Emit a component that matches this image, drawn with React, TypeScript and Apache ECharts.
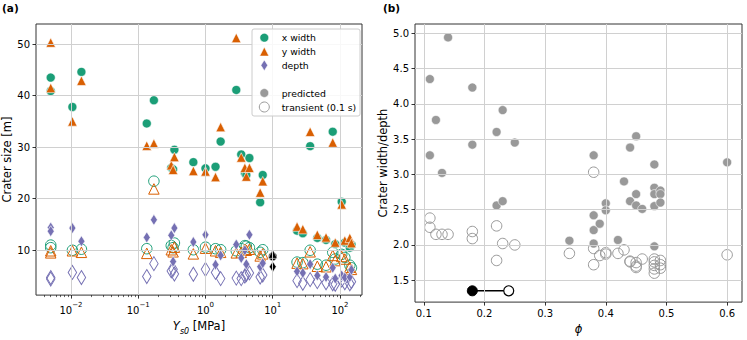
import React, { useEffect, useRef } from 'react';
import * as echarts from 'echarts';

const GREEN = '#1b9e77';
const ORANGE = '#d95f02';
const PURPLE = '#7570b3';
const GRAY = '#999999';
const FONT = 'DejaVu Sans';

// ---------- Panel (a): crater size vs Ys0 ----------
const ys0 = [0.005, 0.005, 0.0105, 0.0143, 0.134, 0.171, 0.31, 0.33, 0.345, 0.66, 1.0, 1.41, 1.68, 2.87, 3.4, 3.85, 4.05, 4.5, 6.5, 7.1,
  23, 28, 36, 46, 62, 78, 85, 106, 118, 140, 148];
const xWidthPred = [43.5, 40.9, 37.8, 44.6, 34.6, 39.1, 26.0, 25.7, 29.5, 27.1, 25.9, 26.2, 31.1, 41.1, 28.6, 25.0, 24.6, 27.9, 19.3, 24.6,
  13.8, 13.3, 30.2, 12.4, 12.0, 33.0, 11.2, 19.4, 11.5, 10.5, 11.1];
const yWidthPred = [50.3, 41.5, 35.0, 42.9, 30.3, 30.7, 26.5, 25.6, 28.1, 25.4, 25.3, 24.2, 33.9, 51.2, 28.0, 26.0, 24.3, 26.0, 21.2, 23.4,
  14.6, 14.1, 33.0, 13.0, 12.5, 30.9, 11.5, 18.9, 11.9, 12.4, 11.4];
const depthPred = [14.4, 13.7, 14.3, 11.75, 12.5, 15.9, 12.9, 7.8, 14.3, 11.6, 13.0, 7.2, 9.0, 11.1, 8.5, 10.0, 7.3, 13.0, 6.8, 7.5,
  5.9, 5.6, 7.3, 5.1, 4.8, 6.6, 4.5, 5.1, 4.7, 4.8, 6.2];
const xWidthTrans = [11.0, 10.5, 10.0, 10.2, 10.3, 23.4, 10.9, 10.5, 11.4, 10.1, 10.6, 10.3, 10.1, 9.9, 10.3, 10.9, 10.8, 10.5, 9.6, 10.1,
  7.7, 7.6, 10.0, 7.3, 7.1, 9.6, 8.3, 9.2, 8.6, 7.1, 6.6];
const yWidthTrans = [9.9, 9.5, 9.9, 9.6, 9.4, 21.9, 10.1, 9.7, 10.6, 9.3, 10.4, 9.9, 9.6, 9.5, 9.6, 10.2, 10.0, 10.2, 8.9, 9.3,
  7.5, 7.4, 9.7, 6.9, 6.8, 9.0, 8.0, 8.8, 8.3, 6.7, 6.3];
const depthTrans = [4.7, 4.4, 5.7, 4.7, 4.9, 7.4, 6.0, 6.3, 5.4, 5.35, 6.3, 5.7, 4.5, 4.6, 4.5, 5.0, 5.3, 5.6, 4.8, 5.2,
  4.1, 3.6, 4.3, 3.9, 3.7, 3.5, 3.4, 4.2, 3.7, 3.5, 3.9];
// observed crater (black)
const obsYs0 = [10];
const obsXWidth = [8.8];
const obsYWidth = [9.3];
const obsDepth = [6.8];

const X_TICKS_A = [0.01, 0.1, 1, 10, 100];
const Y_TICKS_A = [10, 20, 30, 40, 50];

// ---------- Panel (b): width/depth vs porosity ----------
const phiPred = [0.11, 0.11, 0.12, 0.13, 0.14, 0.18, 0.18, 0.22, 0.22, 0.23, 0.23, 0.25, 0.34, 0.38, 0.38, 0.38, 0.38, 0.39, 0.40, 0.40,
  0.42, 0.43, 0.44, 0.44, 0.45, 0.45, 0.45, 0.46, 0.48, 0.48, 0.48, 0.48, 0.48, 0.49, 0.49, 0.49, 0.60];
const ratioPred = [4.35, 3.27, 3.77, 3.02, 4.94, 4.23, 3.42, 3.60, 2.56, 3.91, 2.62, 3.45, 2.06, 3.27, 2.42, 2.21, 2.02, 2.30, 2.59, 2.49,
  2.07, 2.90, 3.38, 2.62, 3.54, 2.72, 2.56, 2.51, 3.14, 2.81, 2.72, 2.55, 1.98, 2.77, 2.72, 2.60, 3.17];
const phiTrans = [0.11, 0.11, 0.12, 0.13, 0.14, 0.18, 0.18, 0.22, 0.22, 0.23, 0.25, 0.34, 0.38, 0.38, 0.38, 0.39, 0.40, 0.40, 0.42, 0.43,
  0.44, 0.44, 0.45, 0.45, 0.45, 0.46, 0.48, 0.48, 0.48, 0.48, 0.48, 0.49, 0.49, 0.49, 0.60];
const ratioTrans = [2.38, 2.25, 2.15, 2.15, 2.15, 2.19, 2.09, 2.27, 1.78, 2.02, 2.00, 1.88, 3.03, 1.95, 1.72, 1.85, 1.89, 1.87, 1.88, 1.93,
  1.77, 1.76, 1.75, 1.70, 1.68, 1.80, 1.80, 1.76, 1.71, 1.66, 1.60, 1.78, 1.72, 1.67, 1.86];
const obsPhi = [0.18, 0.24];
const obsRatio = [1.35, 1.35];

const X_TICKS_B = [0.1, 0.2, 0.3, 0.4, 0.5, 0.6];
const Y_TICKS_B = [1.5, 2.0, 2.5, 3.0, 3.5, 4.0, 4.5, 5.0];

// axis extents
const XA_MIN = 0.00302, XA_MAX = 212.4, YA_MIN = 1.3, YA_MAX = 53.9;
const XB_MIN = 0.0855, XB_MAX = 0.6245, YB_MIN = 1.19, YB_MAX = 5.13;

const minorA: number[] = [];
for (let e = -3; e <= 2; e++) {
  for (let m = 2; m <= 9; m++) {
    const v = m * Math.pow(10, e);
    if (v >= XA_MIN && v <= XA_MAX) minorA.push(v);
  }
}

const pairs = (xs: number[], ys: number[]) => xs.map((x, i) => [x, ys[i]]);

const TRANSP = 'rgba(255,255,255,0)';

function scatter(axis: number, data: number[][], symbol: string, size: any, fill: string, stroke: string, bw: number, z: number) {
  return {
    type: 'scatter',
    xAxisIndex: axis,
    yAxisIndex: axis,
    data,
    symbol,
    symbolSize: size,
    itemStyle: { color: fill, borderColor: stroke, borderWidth: bw, opacity: 1 },
    z,
    silent: true,
  };
}

const TRI = 'triangle';
const DIA = 'diamond';
const CIR = 'circle';

export default function App() {
  const ref = useRef<HTMLDivElement>(null);
  useEffect(() => {
    document.body.style.margin = '0';
    const chart = echarts.init(ref.current!, undefined, { renderer: 'svg' });
    const tickLabel = { fontFamily: FONT, fontSize: 10, color: '#000' };
    const gridLine = { show: true, lineStyle: { color: '#d0d0d0', width: 1 } };
    const tick = { show: true, length: 3.5, lineStyle: { color: '#000', width: 0.8 } };

    const legendX = 264.3;
    const legendRows = [37.7, 51.7, 65.3, 93, 107];
    const legendTextX = 281.7;
    const lt = (y: number, t: string) => ({
      type: 'text', x: legendTextX, y, style: { text: t, fontFamily: FONT, fontSize: 9.3, fill: '#000', verticalAlign: 'middle' }, z: 101,
    });

    const option: any = {
      animation: false,
      grid: [
        { left: 36, right: 385, top: 24, bottom: 37, show: true, borderColor: '#333', borderWidth: 1, backgroundColor: 'transparent', z: 10 },
        { left: 415, right: 5, top: 24, bottom: 37, show: true, borderColor: '#333', borderWidth: 1, backgroundColor: 'transparent', z: 10 },
      ],
      xAxis: [
        {
          gridIndex: 0, type: 'log', logBase: 10, min: XA_MIN, max: XA_MAX,
          axisLine: { show: false },
          axisTick: { ...tick, customValues: X_TICKS_A },
          splitLine: gridLine,
          axisLabel: {
            customValues: X_TICKS_A,
            margin: 6,
            formatter: (v: number) => {
              const e = Math.round(Math.log10(v));
              return '{b|10}{e|' + (e < 0 ? '\u2212' : '') + Math.abs(e) + '}';
            },
            rich: {
              b: { fontFamily: FONT, fontSize: 10, color: '#000', lineHeight: 14, verticalAlign: 'bottom' },
              e: { fontFamily: FONT, fontSize: 7, color: '#000', lineHeight: 14, verticalAlign: 'top' },
            },
          },
          name: '{i|Y}{s|s0}{n| [MPa]}',
          nameLocation: 'middle',
          nameGap: 17,
          nameTextStyle: {
            fontFamily: FONT, fontSize: 11.5, color: '#000',
            rich: {
              i: { fontFamily: FONT, fontSize: 11.5, fontStyle: 'italic', color: '#000', verticalAlign: 'top', lineHeight: 15 },
              s: { fontFamily: FONT, fontSize: 8, fontStyle: 'italic', color: '#000', verticalAlign: 'bottom', lineHeight: 15 },
              n: { fontFamily: FONT, fontSize: 11.5, color: '#000', verticalAlign: 'top', lineHeight: 15 },
            },
          },
          z: 20,
        },
        {
          gridIndex: 1, type: 'value', min: XB_MIN, max: XB_MAX,
          axisLine: { show: false },
          axisTick: { ...tick, customValues: X_TICKS_B },
          splitLine: gridLine,
          axisLabel: { ...tickLabel, customValues: X_TICKS_B, margin: 6, formatter: (v: number) => v.toFixed(1) },
          name: '\u03d5',
          nameLocation: 'middle',
          nameGap: 18,
          nameTextStyle: { fontFamily: FONT, fontSize: 11.5, fontStyle: 'italic', color: '#000' },
          z: 20,
        },
        {
          gridIndex: 0, type: 'log', logBase: 10, min: XA_MIN, max: XA_MAX, position: 'bottom',
          axisLine: { show: false },
          axisTick: { show: true, length: 2, lineStyle: { color: '#000', width: 0.6 }, customValues: minorA },
          splitLine: { show: false },
          axisLabel: { show: false },
          z: 20,
        },
      ],
      yAxis: [
        {
          gridIndex: 0, type: 'value', min: YA_MIN, max: YA_MAX,
          axisLine: { show: false },
          axisTick: { ...tick, customValues: Y_TICKS_A },
          splitLine: gridLine,
          axisLabel: { ...tickLabel, customValues: Y_TICKS_A, margin: 6 },
          name: 'Crater size [m]',
          nameLocation: 'middle',
          nameGap: 18,
          nameTextStyle: { fontFamily: FONT, fontSize: 11.5, color: '#000' },
          z: 20,
        },
        {
          gridIndex: 1, type: 'value', min: YB_MIN, max: YB_MAX,
          axisLine: { show: false },
          axisTick: { ...tick, customValues: Y_TICKS_B },
          splitLine: gridLine,
          axisLabel: { ...tickLabel, customValues: Y_TICKS_B, margin: 6, formatter: (v: number) => v.toFixed(1) },
          name: 'Crater width/depth',
          nameLocation: 'middle',
          nameGap: 25,
          nameTextStyle: { fontFamily: FONT, fontSize: 11.5, color: '#000' },
          z: 20,
        },
      ],
      series: [
        // panel a, transient (open)
        scatter(0, pairs(ys0, xWidthTrans), CIR, 10.5, TRANSP, GREEN, 1, 2),
        scatter(0, pairs(ys0, yWidthTrans), TRI, 10.5, TRANSP, ORANGE, 1, 2),
        scatter(0, pairs(ys0, depthTrans), DIA, [8.5, 14], TRANSP, PURPLE, 1, 2),
        // panel a, predicted (filled)
        scatter(0, pairs(ys0, xWidthPred), CIR, 9, GREEN, '#fff', 0.6, 3),
        scatter(0, pairs(ys0, yWidthPred), TRI, 9.5, ORANGE, '#fff', 0.6, 3),
        scatter(0, pairs(ys0, depthPred), DIA, [7, 11], PURPLE, '#fff', 0.6, 3),
        // panel a, observed
        scatter(0, pairs(obsYs0, obsXWidth), CIR, 8.5, '#000', '#fff', 0.6, 4),
        scatter(0, pairs(obsYs0, obsYWidth), TRI, 9, '#000', '#fff', 0.6, 4),
        scatter(0, pairs(obsYs0, obsDepth), DIA, [7, 11], '#000', '#fff', 0.6, 4),
        // panel b
        scatter(1, pairs(phiTrans, ratioTrans), CIR, 10.5, TRANSP, GRAY, 1, 2),
        scatter(1, pairs(phiPred, ratioPred), CIR, 9, GRAY, '#fff', 0.6, 3),
        {
          type: 'line', xAxisIndex: 1, yAxisIndex: 1, data: pairs(obsPhi, obsRatio), symbol: 'none',
          lineStyle: { color: '#000', width: 1.5 }, z: 4, silent: true,
        },
        scatter(1, [pairs(obsPhi, obsRatio)[0]], CIR, 10, '#000', '#000', 1, 5),
        scatter(1, [pairs(obsPhi, obsRatio)[1]], CIR, 10, '#fff', '#000', 1.2, 5),
      ],
      graphic: [
        { type: 'text', left: 2, top: 2, style: { text: '(a)', fontFamily: FONT, fontSize: 10.5, fontWeight: 'bold', fill: '#000' } },
        { type: 'text', left: 383, top: 2, style: { text: '(b)', fontFamily: FONT, fontSize: 10.5, fontWeight: 'bold', fill: '#000' } },
        {
          type: 'rect', shape: { x: 252, y: 29, width: 108, height: 87, r: 2 },
          style: { fill: 'rgba(255,255,255,0.85)', stroke: '#cccccc', lineWidth: 1 }, z: 100,
        },
        { type: 'circle', shape: { cx: legendX, cy: legendRows[0], r: 4.4 }, style: { fill: GREEN, stroke: '#fff', lineWidth: 0.6 }, z: 101 },
        {
          type: 'polygon', shape: { points: [[legendX, legendRows[1] - 4.6], [legendX - 4.6, legendRows[1] + 4.4], [legendX + 4.6, legendRows[1] + 4.4]] },
          style: { fill: ORANGE, stroke: '#fff', lineWidth: 0.6 }, z: 101,
        },
        {
          type: 'polygon', shape: { points: [[legendX, legendRows[2] - 5.4], [legendX - 3.4, legendRows[2]], [legendX, legendRows[2] + 5.4], [legendX + 3.4, legendRows[2]]] },
          style: { fill: PURPLE, stroke: '#fff', lineWidth: 0.6 }, z: 101,
        },
        { type: 'circle', shape: { cx: legendX, cy: legendRows[3], r: 4.4 }, style: { fill: GRAY, stroke: '#fff', lineWidth: 0.6 }, z: 101 },
        { type: 'circle', shape: { cx: legendX, cy: legendRows[4], r: 5 }, style: { fill: TRANSP, stroke: GRAY, lineWidth: 1 }, z: 101 },
        lt(legendRows[0], 'x width'),
        lt(legendRows[1], 'y width'),
        lt(legendRows[2], 'depth'),
        lt(legendRows[3], 'predicted'),
        lt(legendRows[4], 'transient (0.1 s)'),
      ],
    };
    chart.setOption(option);
    return () => chart.dispose();
  }, []);
  return <div ref={ref} style={{ position: 'absolute', left: 0, top: 0, width: 747, height: 340 }} />;
}
